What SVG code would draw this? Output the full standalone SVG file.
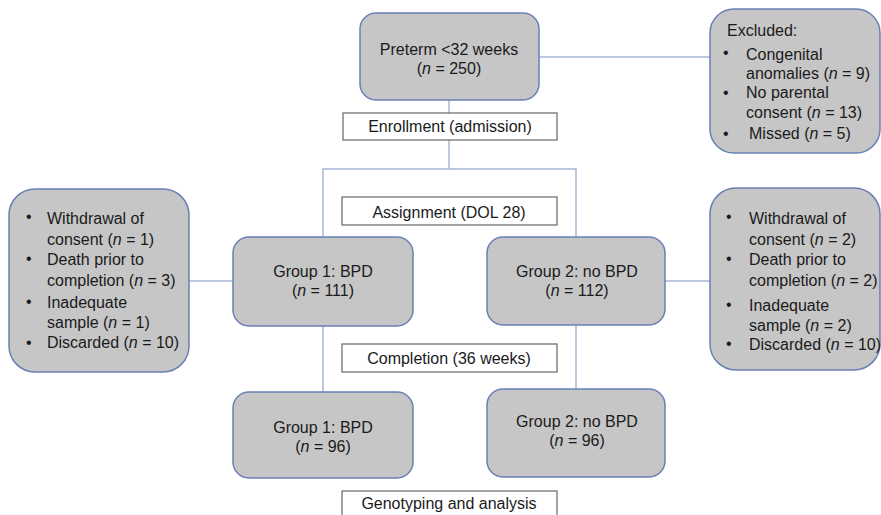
<svg xmlns="http://www.w3.org/2000/svg" width="881" height="515" viewBox="0 0 881 515">
<style>
.node{fill:#c6c6c6;stroke:#6a80b4;stroke-width:1.5}
.lbl{fill:#fff;stroke:#666;stroke-width:1.2}
.conn{stroke:#a6b6d8;stroke-width:1.5;fill:none}
text{font-family:"Liberation Sans",Arial,sans-serif;font-size:16px;fill:#1a1a1a}
.c{text-anchor:middle}
.i{font-style:italic}
</style>
<rect width="881" height="515" fill="#fff"/>
<g id="connectors">
<path class="conn" d="M539,57 H710"/>
<path class="conn" d="M449,100 V113 M449,140 V169"/>
<path class="conn" d="M323,237 V169 H576 V237"/>
<path class="conn" d="M189,281 H233"/>
<path class="conn" d="M665,281 H710"/>
<path class="conn" d="M323,326 V392 M576,326 V389"/>
</g>
<g id="preterm">
<rect class="node" x="360" y="13" width="179" height="87" rx="16"/>
<text class="c" x="449" y="55">Preterm &lt;32 weeks</text>
<text class="c" x="449" y="74">(<tspan class="i">n</tspan> = 250)</text>
</g>
<g id="excluded">
<rect class="node" x="710" y="9" width="170" height="144" rx="24"/>
<text x="727" y="36">Excluded:</text>
<text x="723" y="58">•</text>
<text x="746" y="60">Congenital</text>
<text x="746" y="79">anomalies (<tspan class="i">n</tspan> = 9)</text>
<text x="723" y="98">•</text>
<text x="746" y="98">No parental</text>
<text x="746" y="118">consent (<tspan class="i">n</tspan> = 13)</text>
<text x="723" y="139">•</text>
<text x="749" y="139">Missed (<tspan class="i">n</tspan> = 5)</text>
</g>
<g id="enrollment">
<rect class="lbl" x="343" y="113" width="214" height="27"/>
<text class="c" x="450" y="132">Enrollment (admission)</text>
</g>
<g id="assignment">
<rect class="lbl" x="342" y="197" width="215" height="28"/>
<text class="c" x="449" y="218">Assignment (DOL 28)</text>
</g>
<g id="withdrawn1">
<rect class="node" x="9" y="189" width="180" height="183" rx="26"/>
<text x="26" y="222">•</text>
<text x="47" y="224">Withdrawal of</text>
<text x="47" y="245">consent (<tspan class="i">n</tspan> = 1)</text>
<text x="26" y="264">•</text>
<text x="47" y="265">Death prior to</text>
<text x="47" y="286">completion (<tspan class="i">n</tspan> = 3)</text>
<text x="26" y="307">•</text>
<text x="47" y="308">Inadequate</text>
<text x="47" y="328">sample (<tspan class="i">n</tspan> = 1)</text>
<text x="26" y="348">•</text>
<text x="47" y="348">Discarded (<tspan class="i">n</tspan> = 10)</text>
</g>
<g id="withdrawn2">
<rect class="node" x="710" y="188" width="170" height="182" rx="26"/>
<text x="726" y="222">•</text>
<text x="749" y="224">Withdrawal of</text>
<text x="749" y="245">consent (<tspan class="i">n</tspan> = 2)</text>
<text x="726" y="264">•</text>
<text x="749" y="265">Death prior to</text>
<text x="749" y="286">completion (<tspan class="i">n</tspan> = 2)</text>
<text x="726" y="310">•</text>
<text x="749" y="311">Inadequate</text>
<text x="749" y="331">sample (<tspan class="i">n</tspan> = 2)</text>
<text x="726" y="349">•</text>
<text x="749" y="350">Discarded (<tspan class="i">n</tspan> = 10)</text>
</g>
<g id="group1">
<rect class="node" x="233" y="237" width="180" height="89" rx="16"/>
<text class="c" x="323" y="277">Group 1: BPD</text>
<text class="c" x="323" y="296">(<tspan class="i">n</tspan> = 111)</text>
</g>
<g id="group2">
<rect class="node" x="487" y="237" width="178" height="88" rx="16"/>
<text class="c" x="577" y="277">Group 2: no BPD</text>
<text class="c" x="577" y="296">(<tspan class="i">n</tspan> = 112)</text>
</g>
<g id="completion">
<rect class="lbl" x="342" y="344" width="215" height="28"/>
<text class="c" x="449" y="364">Completion (36 weeks)</text>
</g>
<g id="group1b">
<rect class="node" x="233" y="392" width="180" height="86" rx="16"/>
<text class="c" x="323" y="433">Group 1: BPD</text>
<text class="c" x="323" y="452">(<tspan class="i">n</tspan> = 96)</text>
</g>
<g id="group2b">
<rect class="node" x="487" y="389" width="178" height="88" rx="16"/>
<text class="c" x="577" y="427">Group 2: no BPD</text>
<text class="c" x="577" y="446">(<tspan class="i">n</tspan> = 96)</text>
</g>
<g id="genotyping">
<rect class="lbl" x="342" y="491" width="215" height="30"/>
<text class="c" x="449" y="509">Genotyping and analysis</text>
</g>
</svg>
